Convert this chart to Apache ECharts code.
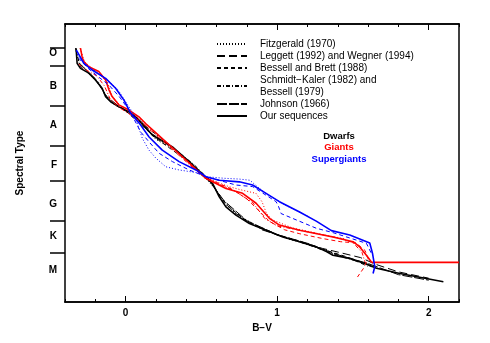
<!DOCTYPE html>
<html>
<head>
<meta charset="utf-8">
<script src="https://cdn.jsdelivr.net/npm/echarts@6/dist/echarts.min.js"></script>
<style>
    html, body { margin: 0; padding: 0; background: #fff; }
    #chart { width: 490px; height: 343px; }
</style>
</head>
<body>
<div id="chart"></div>
<script>
// spectral type as a number: one unit per subclass, B0 = 10, A0 = 20, F0 = 30, G0 = 39, K0 = 49, M0 = 57
var typeTicks = [5.5, 10, 20, 30, 39, 49, 57];
var typeNames = ['O', 'B', 'A', 'F', 'G', 'K', 'M'];
var typeLabelPos = [6.8, 15, 25, 35, 44.8, 53, 61.5];
var bvLabels = [0, 1, 2];

// legend entries (source, dash pattern)
var sources = ['Fitzgerald (1970)', 'Leggett (1992) and Wegner (1994)', 'Bessell and Brett (1988)',
    'Schmidt\u2212Kaler (1982) and\nBessell (1979)', 'Johnson (1966)', 'Our sequences'];
var dashes = [[1, 2], [8, 4], [4, 3], [4, 2, 1, 2], [10, 2], 'solid'];

// dwarfs  [B-V, spectral type]
var fitzDwarf = [[-0.33,5.5],[-0.31,9],[-0.26,11],[-0.2,13.6],[-0.15,16],[-0.12,18],[-0.06,20],[0.03,22],[0.1,24.2],
    [0.2,28.5],[0.32,31],[0.42,34.3],[0.52,37.8],[0.6,41.5],[0.67,45.3],[0.76,48],[0.9,51],[1.05,53.3],[1.2,54.9],[1.35,57],[1.45,58.2]];
var leggettDwarf = [[0.9,51.3],[1.1,53.8],[1.3,56],[1.4,56.9],[1.55,58.3],[1.65,60],[1.8,61.9],[2.0,63.5]];
var bessellDwarf = [[0.0,21.3],[0.2,28.2],[0.4,33.7],[0.55,38.5],[0.65,44.5],[0.8,49.2],[1.0,52.5],[1.15,54.2],[1.3,56.2],[1.45,58],[1.6,60.5]];
var schmidtDwarf = [[-0.33,5.6],[-0.3,10],[-0.25,11.7],[-0.18,14],[-0.14,17],[-0.09,19.3],[0,21.3],[0.12,24.8],[0.3,30.2],
    [0.45,34.8],[0.55,38.6],[0.63,43.2],[0.72,47],[0.85,50.3],[1.0,52.6],[1.2,55],[1.4,57.8],[1.55,59.5],[1.65,61]];
var johnsonDwarf = [[-0.3,9.5],[-0.2,13.2],[-0.13,17.5],[-0.05,20],[0.05,22.3],[0.15,26.5],[0.3,30.3],[0.45,35],[0.55,38.8],
    [0.65,44],[0.8,49],[1.0,52.5],[1.2,54.7],[1.4,57.6],[1.6,59.8],[1.8,62.6],[2.0,64]];
var ourDwarf = [[-0.327,5.5],[-0.32,9.3],[-0.298,10.6],[-0.243,11.8],[-0.199,13.5],[-0.155,15.6],[-0.132,17.7],[-0.099,19.0],
    [-0.044,20.3],[0.022,21.5],[0.066,22.8],[0.108,24.4],[0.176,27.4],[0.309,30.4],[0.419,34.1],[0.507,37.5],[0.574,39.6],
    [0.618,43.0],[0.662,45.5],[0.728,47.6],[0.817,49.7],[0.927,51.4],[1.037,53.1],[1.148,54.3],[1.258,55.6],[1.325,56.8],
    [1.368,57.7],[1.479,58.5],[1.589,59.9],[1.656,61.0],[1.81,62.3],[2.097,64.4]];

// giants
var fitzGiant = [[-0.3,5.5],[-0.27,9],[-0.2,11.2],[-0.12,14],[-0.09,17.5],[-0.03,20.2],[0.1,23.5],[0.3,30.4],[0.52,38],
    [0.68,40.4],[0.77,41.3],[0.86,42.1],[0.9,44.2],[0.93,47.2],[0.97,48.8],[1.1,50.8],[1.3,52.5],[1.45,53.6]];
var bessellGiant = [[0.55,38.5],[0.7,41],[0.8,43.5],[0.88,46.5],[0.95,49.2],[1.05,51.3],[1.15,52.3],[1.3,53.5],[1.42,54.3],
    [1.52,54.6],[1.58,56.5],[1.6,58.5],[1.57,61],[1.53,63.2]];
var schmidtGiant = [[-0.31,9.5],[-0.26,11],[-0.19,12.5],[-0.14,15],[-0.1,18.5],[-0.04,20.5],[0.1,24],[0.52,38.2],[0.72,41.5],
    [0.84,44.5],[0.92,48.5],[1.0,50.3],[1.2,51.8],[1.4,53.3],[1.5,54.5],[1.56,57],[1.58,59.5]];
var ourGiant = [[-0.298,5.5],[-0.287,7.7],[-0.276,8.9],[-0.243,10.2],[-0.177,11.4],[-0.132,13.5],[-0.11,16.0],[-0.089,17.7],
    [-0.044,19.8],[0.022,21.1],[0.088,22.8],[0.132,24.5],[0.33,31.3],[0.53,38.3],[0.574,39.2],[0.662,40.9],[0.772,42.1],
    [0.861,44.6],[0.949,48.4],[1.015,50.1],[1.148,51.4],[1.368,53.1],[1.501,54.3],[1.545,55.6],[1.589,57.7],[1.623,59.5],[2.2,59.5]];

// supergiants
var fitzSuper = [[-0.32,7],[-0.27,9.5],[-0.2,11.3],[-0.12,13.5],[-0.05,16],[0.0,19],[0.06,22.5],[0.11,28.2],[0.154,31.2],
    [0.199,33.2],[0.265,35.4],[0.353,36.2],[0.485,37],[0.53,37.9],[0.65,38.3],[0.75,38.5],[0.82,38.8],[0.86,40.1],[0.93,42.3],
    [1.05,45],[1.2,47.8]];
var bessellSuper = [[-0.31,8],[-0.25,10.5],[-0.17,13],[-0.11,14.8],[-0.04,17.8],[0.03,21.5],[0.099,26.6],[0.154,29.1],
    [0.221,32.0],[0.309,34.1],[0.419,36.2],[0.53,37.9],[0.728,40.0],[0.838,40.4],[0.993,44.2],[1.01,45.5],[1.026,47.2],
    [1.126,48.8],[1.258,50.9],[1.368,52],[1.589,54.7],[1.625,57.5]];
var ourSuper = [[-0.325,6.0],[-0.276,9.3],[-0.221,11.0],[-0.132,13.1],[-0.066,15.6],[-0.011,18.6],[0.033,21.9],[0.09,24.4],
    [0.155,27.9],[0.242,31.2],[0.353,34.1],[0.464,36.2],[0.53,37.9],[0.618,38.8],[0.75,39.2],[0.838,40.0],[0.927,42.1],
    [1.015,44.2],[1.148,46.8],[1.258,49.1],[1.358,51.5],[1.479,52.6],[1.611,54.6],[1.629,57.2],[1.644,60.6],[1.633,62.3]];

var classes = [
    { text: 'Dwarfs', color: '#000000', y: 136 },
    { text: 'Giants', color: '#ff0000', y: 147.5 },
    { text: 'Supergiants', color: '#0000ff', y: 159 }
];

var font = "'Liberation Sans', Arial, sans-serif";

function curve (name, data, color, dash) {
    return {
        name: name,
        type: 'line',
        data: data,
        symbol: 'none',
        silent: true,
        itemStyle: { color: color },
        lineStyle: { color: color, width: dash === 'solid' ? 1.6 : 1, type: dash }
    };
}

var series = [];
// dummy black series for the legend
for (var i = 0; i < sources.length; i++) {
    series.push(curve(sources[i], [], '#000', dashes[i]));
}
series.push(curve('d0', fitzDwarf, '#000', dashes[0]));
series.push(curve('d1', leggettDwarf, '#000', dashes[1]));
series.push(curve('d2', bessellDwarf, '#000', dashes[2]));
series.push(curve('d3', schmidtDwarf, '#000', dashes[3]));
series.push(curve('d4', johnsonDwarf, '#000', dashes[4]));
series.push(curve('d5', ourDwarf, '#000', 'solid'));
series.push(curve('g0', fitzGiant, '#ff0000', dashes[0]));
series.push(curve('g2', bessellGiant, '#ff0000', dashes[2]));
series.push(curve('g3', schmidtGiant, '#ff0000', dashes[3]));
series.push(curve('g5', ourGiant, '#ff0000', 'solid'));
series.push(curve('s0', fitzSuper, '#0000ff', dashes[0]));
series.push(curve('s2', bessellSuper, '#0000ff', dashes[2]));
series.push(curve('s5', ourSuper, '#0000ff', 'solid'));

var axisLine = { show: true, onZero: false, lineStyle: { color: '#000', width: 1.5 } };

function xAxis (pos, major, labels) {
    return {
        type: 'value',
        position: pos,
        min: -0.4,
        max: 2.2,
        interval: 0.2,
        axisLine: axisLine,
        splitLine: { show: false },
        axisTick: major
            ? { show: true, inside: true, length: 6, customValues: bvLabels, lineStyle: { color: '#000', width: 1 } }
            : { show: true, inside: true, length: 3, lineStyle: { color: '#000', width: 1 } },
        axisLabel: labels
            ? { show: true, customValues: bvLabels, margin: 6, color: '#000', fontSize: 10, fontWeight: 'bold', fontFamily: font }
            : { show: false },
        name: labels ? 'B\u2212V' : '',
        nameLocation: 'middle',
        nameGap: 13,
        nameTextStyle: { color: '#000', fontSize: 10, fontWeight: 'bold', fontFamily: font }
    };
}

var chart = echarts.init(document.getElementById('chart'), null, { renderer: 'canvas' });
chart.setOption({
    animation: false,
    backgroundColor: '#fff',
    grid: { left: 65, right: 31, top: 24, bottom: 41 },
    legend: {
        data: sources,
        orient: 'vertical',
        left: 216,
        top: 38,
        padding: 0,
        itemGap: 0,
        itemWidth: 30,
        itemHeight: 10,
        selectedMode: false,
        itemStyle: { opacity: 0 },
        textStyle: { color: '#000', fontSize: 10, lineHeight: 12, fontFamily: font, padding: [0, 0, 0, 8] }
    },
    xAxis: [
        xAxis('bottom', false, true),
        xAxis('bottom', true, false),
        xAxis('top', false, false),
        xAxis('top', true, false)
    ],
    yAxis: [
        {
            type: 'value',
            position: 'left',
            inverse: true,
            min: -0.6,
            max: 69.5,
            axisLine: axisLine,
            splitLine: { show: false },
            axisTick: { show: true, inside: false, length: 15, customValues: typeTicks, lineStyle: { color: '#000', width: 1.5 } },
            axisLabel: {
                customValues: typeLabelPos,
                margin: 8,
                color: '#000',
                fontSize: 10,
                fontWeight: 'bold',
                fontFamily: font,
                formatter: function (v) {
                    var best = 0;
                    for (var k = 0; k < typeLabelPos.length; k++) {
                        if (Math.abs(typeLabelPos[k] - v) < Math.abs(typeLabelPos[best] - v)) best = k;
                    }
                    return typeNames[best];
                }
            },
            name: 'Spectral Type',
            nameLocation: 'middle',
            nameGap: 40,
            nameTextStyle: { color: '#000', fontSize: 10, fontWeight: 'bold', fontFamily: font }
        },
        {
            type: 'value',
            position: 'right',
            inverse: true,
            min: -0.6,
            max: 69.5,
            axisLine: axisLine,
            splitLine: { show: false },
            axisTick: { show: false },
            axisLabel: { show: false }
        }
    ],
    graphic: classes.map(function (c) {
        return {
            type: 'text',
            x: 339,
            y: c.y,
            style: { text: c.text, fill: c.color, font: 'bold 9.5px ' + font, align: 'center', verticalAlign: 'middle' }
        };
    }),
    series: series
});
</script>
</body>
</html>
